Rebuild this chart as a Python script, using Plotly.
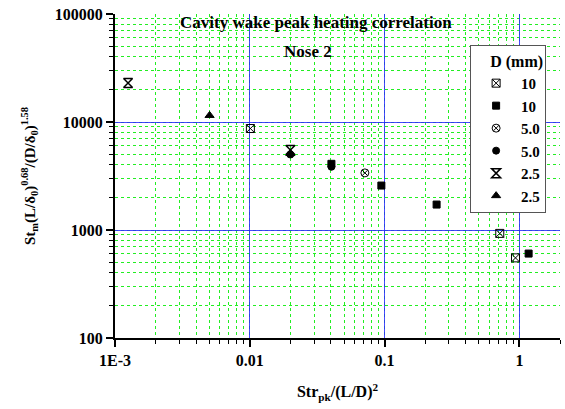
import plotly.graph_objects as go

# Data
sq_x_x = [0.0101, 0.715, 0.935]
sq_x_y = [8700, 930, 552]

half_sq_x = [0.0403, 0.0946, 0.243, 1.17]
half_sq_y = [4100, 2580, 1720, 605]

circ_x_x = [0.0714]
circ_x_y = [3380]

half_circ_x = [0.02, 0.0403]
half_circ_y = [5000, 3850]

hour_x = [0.00125, 0.02]
hour_y = [23000, 5500]

tri_x = [0.00503, 0.02]
tri_y = [11500, 5100]

x_ticks = [0.001, 0.01, 0.1, 1]
x_ticklabels = ["1E-3", "0.01", "0.1", "1"]
y_ticks = [100, 1000, 10000, 100000]
y_ticklabels = ["100", "1000", "10000", "100000"]

series = [
    ("10", sq_x_x, sq_x_y, "square-x-open", "black", 8, 1),
    ("10", half_sq_x, half_sq_y, "square", "black", 7, 1),
    ("5.0", circ_x_x, circ_x_y, "circle-x-open", "black", 8, 1),
    ("5.0", half_circ_x, half_circ_y, "circle", "black", 7, 1),
    ("2.5", hour_x, hour_y, "hourglass-open", "black", 9, 1.5),
    ("2.5", tri_x, tri_y, "triangle-up", "black", 8, 1),
]

FONT = "Liberation Serif"

fig = go.Figure()
for name, xs, ys, sym, col, size, lw in series:
    fig.add_trace(go.Scatter(
        x=xs, y=ys, mode="markers", name="<b>" + name + "</b>",
        marker=dict(symbol=sym, color=col, size=size,
                    line=dict(color="black", width=lw)),
    ))

axis_common = dict(
    type="log",
    showline=True, linecolor="black", linewidth=2,
    ticks="outside", ticklen=7, tickwidth=1.5, tickcolor="black",
    showgrid=True, gridcolor="rgba(40,40,255,0.85)", gridwidth=1.2,
    zeroline=False,
    tickfont=dict(family=FONT, size=16, color="black"),
    minor=dict(dtick="D1", ticks="outside", ticklen=4, tickwidth=1, tickcolor="black",
               showgrid=True, gridcolor="#22ee22", griddash="dot", gridwidth=1),
)

fig.update_xaxes(
    **axis_common,
    range=[-3, 0.301],
    tickvals=x_ticks,
    ticktext=["<b>" + t + "</b>" for t in x_ticklabels],
    title=dict(text="<b>Str<sub>pk</sub>/(L/D)<sup>2</sup></b>",
               font=dict(family=FONT, size=16, color="black"), standoff=18),
)
fig.update_yaxes(
    **axis_common,
    range=[2, 5],
    tickvals=y_ticks,
    ticktext=["<b>" + t + "</b>" for t in y_ticklabels],
    title=dict(text="<b>St<sub>m</sub>(L/δ<sub>0</sub>)<sup>0.68</sup>/(D/δ<sub>0</sub>)<sup>1.58</sup></b>",
               font=dict(family=FONT, size=15, color="black"), standoff=16),
)

fig.add_annotation(text="<b>Cavity wake peak heating correlation</b>", xref="paper", yref="paper",
                   x=0.452, y=0.975, xanchor="center", yanchor="middle", showarrow=False,
                   font=dict(family=FONT, size=17, color="black"))
fig.add_annotation(text="<b>Nose 2</b>", xref="paper", yref="paper",
                   x=0.433, y=0.883, xanchor="center", yanchor="middle", showarrow=False,
                   font=dict(family=FONT, size=17, color="black"))

fig.update_layout(
    width=565, height=409,
    margin=dict(l=115, r=5, t=14, b=71),
    plot_bgcolor="white", paper_bgcolor="white",
    showlegend=True,
    legend=dict(
        x=0.798, y=0.904, xanchor="left", yanchor="top",
        bgcolor="white", bordercolor="#555555", borderwidth=1,
        title=dict(text="<b>D (mm)</b>", font=dict(family=FONT, size=16, color="black"), side="top right"),
        font=dict(family=FONT, size=15, color="black"),
        itemwidth=40,
    ),
)

fig.write_html("out.html")
